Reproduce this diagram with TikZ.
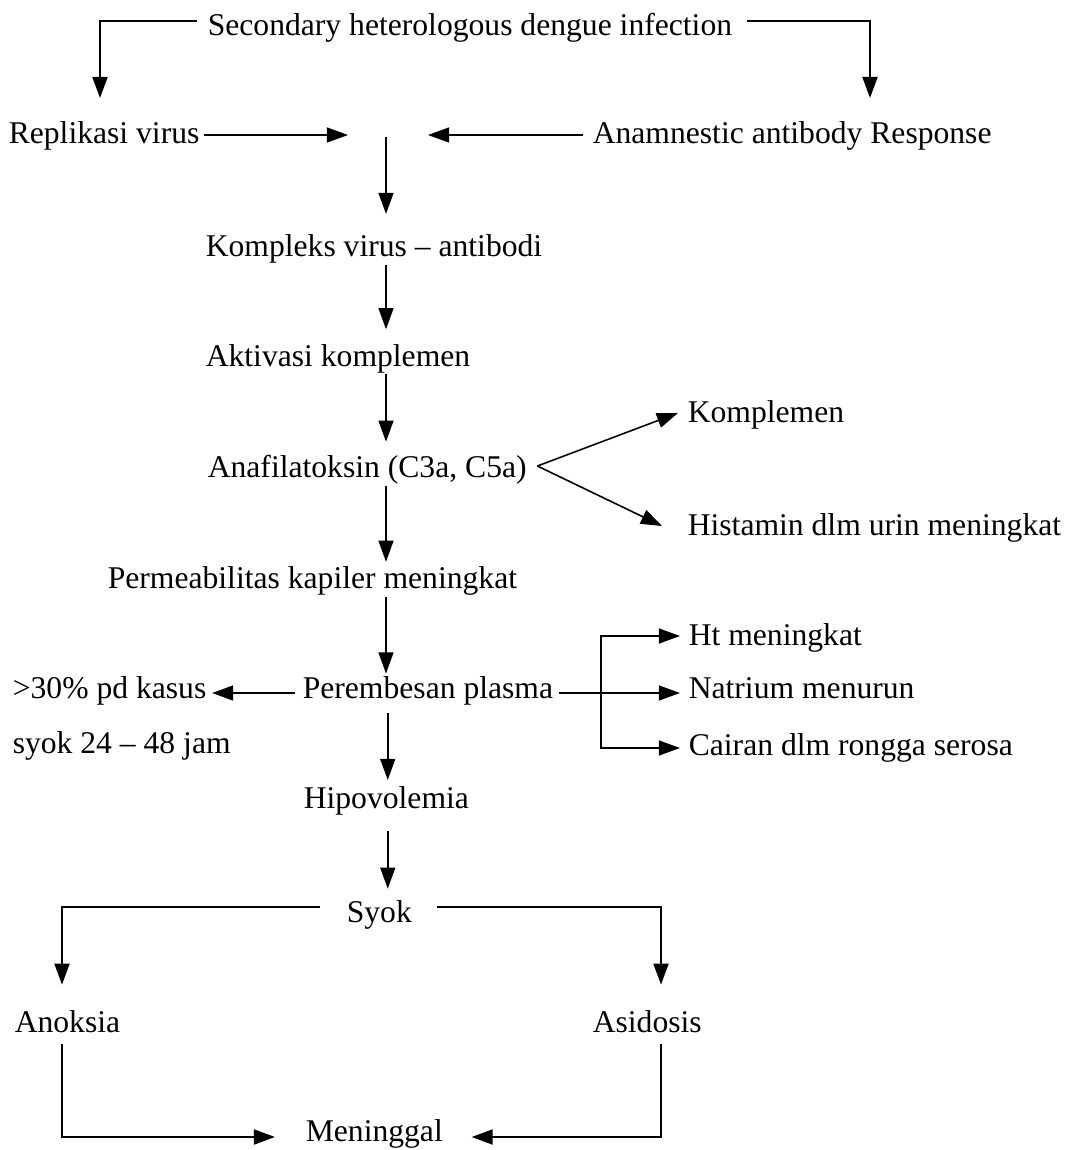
\documentclass[tikz,border=0pt]{standalone}
\usepackage{fontspec}
\setmainfont{Liberation Serif}
\usetikzlibrary{arrows.meta}

\begin{document}
\begin{tikzpicture}[x=0.02cm, y=-0.02cm,
	line width=0.9pt,
	>={Triangle[length=12pt,width=8.5pt]},
	lbl/.style={anchor=base west, inner sep=0pt},
	thickline/.style={line width=1.3pt},
	font=\fontsize{18}{21}\selectfont]
  \useasboundingbox (0,0) rectangle (1075,1150);
  \coordinate (axis) at (386,0);
  \coordinate (brk) at (601,0);
  \coordinate (colL) at (62,0);
  \coordinate (colR) at (661,0);
  \coordinate (repin) at (100,98);
  \coordinate (anain) at (870,98);
  \coordinate (mrgL) at (348,135);
  \coordinate (mrgR) at (428,135);
  \coordinate (mrg) at (386,137);

  \node[lbl] (sec) at (207,35) {Secondary heterologous dengue infection};
  \node[lbl] (rep) at (8,143) {Replikasi virus};
  \node[lbl] (ana) at (592,143) {Anamnestic antibody Response};
  \node[lbl] (kom) at (205,256) {Kompleks virus -- antibodi};
  \node[lbl] (akt) at (205,366) {Aktivasi komplemen};
  \node[lbl] (anf) at (207,477) {Anafilatoksin (C3a, C5a)};
  \node[lbl] (kmp) at (687,422) {Komplemen};
  \node[lbl] (his) at (687,535) {Histamin dlm urin meningkat};
  \node[lbl] (per) at (107,588) {Permeabilitas kapiler meningkat};
  \node[lbl] (pem) at (302,698) {Perembesan plasma};
  \node[lbl] (kas) at (12,698) {>30\% pd kasus};
  \node[lbl] (jam) at (12,753) {syok 24 -- 48 jam};
  \node[lbl] (ht) at (688,645) {Ht meningkat};
  \node[lbl] (nat) at (688,698) {Natrium menurun};
  \node[lbl] (cai) at (688,755) {Cairan dlm rongga serosa};
  \node[lbl] (hip) at (303,808) {Hipovolemia};
  \node[lbl] (syk) at (346,922) {Syok};
  \node[lbl] (ano) at (14,1032) {Anoksia};
  \node[lbl] (asi) at (592,1032) {Asidosis};
  \node[lbl] (men) at (305,1141) {Meninggal};

  \draw[->,thickline] ([shift={(-10,-14)}]sec.base west) -| (repin);
  \draw[->,thickline] ([shift={(14,-14)}]sec.base east) -| (anain);
  \draw[->] ([shift={(4,-8)}]rep.base east) -- (mrgL);
  \draw[->] ([shift={(-9,-8)}]ana.base west) -- (mrgR);
  \draw[->,shorten >=11pt] (mrg) -- (kom.north -| axis);
  \draw[->,shorten <=1pt,shorten >=8pt] (kom.south -| axis) -- (akt.north -| axis);
  \draw[->,shorten >=7pt] (akt.south -| axis) -- (anf.north -| axis);
  \draw[->,shorten <=1pt,shorten >=2pt] (anf.south -| axis) -- (per.north -| axis);
  \draw[->,shift={(2,0)},shorten <=1pt,shorten >=1pt] (per.south -| axis) -- (pem.north -| axis);
  \draw[->,shorten <=4pt,shorten >=3pt] ([xshift=1pt]pem.south -| axis) -- ([xshift=1pt]hip.north -| axis);
  \draw[->,shorten <=9pt,shorten >=6pt] ([xshift=1pt]hip.south -| axis) -- ([xshift=1pt]syk.north -| axis);

  \draw[->] ([shift={(10,-11)}]anf.base east) -- ([shift={(-9,-9)}]kmp.base west);
  \draw[->] ([shift={(10,-11)}]anf.base east) -- ([shift={(-25,-9)}]his.base west);

  \draw[->] ([shift={(-7,-5)}]pem.base west) -- ([shift={(5,-5)}]kas.base east);
  \draw[->] ([shift={(5,-5)}]pem.base east) -- ([shift={(-8,-5)}]nat.base west);
  \draw[<->] ([shift={(-8,-9)}]ht.base west) -| ([yshift=4pt]cai.base -| brk) -- ([shift={(-8,-7)}]cai.base west);

  \draw[->,thickline] ([shift={(-26,-15)}]syk.base west) -| ([yshift=14pt]ano.north -| colL);
  \draw[->,thickline] ([shift={(24,-15)}]syk.base east) -| ([yshift=14pt]asi.north -| colR);
  \draw[->,thickline] ([yshift=-6pt]ano.south -| colL) |- ([shift={(-30,-4)}]men.base west);
  \draw[->,thickline] ([yshift=-6pt]asi.south -| colR) |- ([shift={(28,-4)}]men.base east);
\end{tikzpicture}
\end{document}
